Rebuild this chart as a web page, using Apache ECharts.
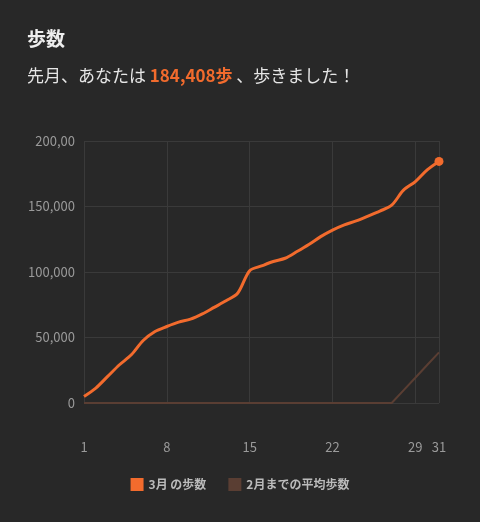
<!DOCTYPE html><html><head><meta charset="utf-8">
<script src="https://cdn.jsdelivr.net/npm/echarts@6/dist/echarts.min.js"></script>
<style>html,body{margin:0;background:#282828;}#c{width:480px;height:522px;}</style></head><body><div id="c"></div>
<script>
const days = Array.from({length:31},(_,i)=>String(i+1));
const march = [5000,11400,20300,29200,36800,47700,54600,58400,61700,64000,68000,73000,78000,84000,101000,104600,108000,110500,115600,121000,127000,132000,136000,139000,142700,146500,151000,162500,169000,178000,184408];
const febAvg = [0,0,0,0,0,0,0,0,0,0,0,0,0,0,0,0,0,0,0,0,0,0,0,0,0,0,0,9650,19300,29000,38600];
const yTicks = {0:'0',50000:'50,000',100000:'100,000',150000:'150,000',200000:'200,00'};
const font = '"Noto Sans CJK JP","Noto Sans",sans-serif';
const c = echarts.init(document.getElementById('c'));
const showIdx = (i)=> i%7===0 || i===30;
c.setOption({
  backgroundColor:'#282828',
  textStyle:{fontFamily:font},
  title:[{text:'歩数',left:22,top:24,textStyle:{color:'#eeeeee',fontSize:19,fontWeight:'bold',fontFamily:font}},
    {text:'先月、あなたは {b|184,408歩} 、歩きました！',left:22,top:62,textStyle:{color:'#e6e6e6',fontSize:17,fontWeight:'normal',fontFamily:font,rich:{b:{color:'#f26b2d',fontSize:17,fontWeight:'bold',fontFamily:font}}}}],
  legend:{bottom:26,left:'center',itemWidth:13,itemHeight:13,itemGap:22,icon:'rect',textStyle:{color:'#bbbbbb',fontSize:12,fontWeight:'bold',fontFamily:font},data:['3月 の歩数','2月までの平均歩数']},
  grid:{left:84,right:41,top:141,bottom:119},
  xAxis:{type:'category',data:days,boundaryGap:false,
    axisLine:{show:false},axisTick:{show:false},
    axisLabel:{color:'#9a9a9a',fontSize:13,margin:38,interval:(i)=>showIdx(i)},
    splitLine:{show:true,interval:(i)=>showIdx(i),lineStyle:{color:'#3a3a3a'}}},
  yAxis:{type:'value',min:0,max:200000,interval:50000,
    axisLine:{show:false},axisTick:{show:false},
    axisLabel:{color:'#9a9a9a',fontSize:13,margin:9,formatter:v=>yTicks[v]},
    splitLine:{lineStyle:{color:'#3a3a3a'}}},
  series:[
    {name:'2月までの平均歩数',type:'line',data:febAvg,showSymbol:false,symbol:'rect',itemStyle:{color:'#5a3e33'},lineStyle:{width:2,color:'#5a3e33'},z:1},
    {name:'3月 の歩数',type:'line',data:march,smooth:0.3,symbol:'rect',itemStyle:{color:'#f26b2d'},lineStyle:{width:3,color:'#f26b2d'},z:2,
      showSymbol:false,
      markPoint:{symbol:'circle',symbolSize:9,label:{show:false},itemStyle:{color:'#f26b2d'},data:[{coord:['31',184408]}]}}
  ]
});
</script></body></html>
